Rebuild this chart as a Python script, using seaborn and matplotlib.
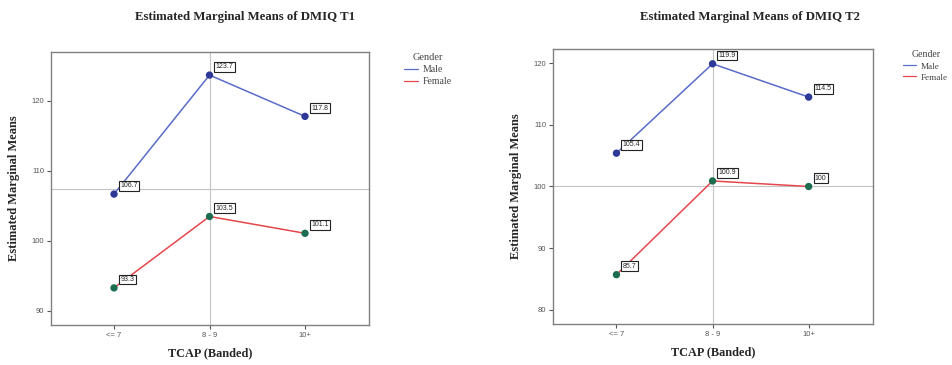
import matplotlib
matplotlib.use("Agg")
import matplotlib.pyplot as plt
import numpy as np
import pandas as pd
import seaborn as sns

# data
bands = ["<= 7", "8 - 9", "10+"]
genders = ["Male", "Female"]
male_t1 = [106.7, 123.7, 117.8]
female_t1 = [93.3, 103.5, 101.1]
male_t2 = [105.4, 119.9, 114.5]
female_t2 = [85.7, 100.9, 100.0]
ref_line_t1 = 107.4
ref_line_t2 = 100.0

line_colors = {"Male": "#5a6cc8", "Female": "#e5474d"}
marker_colors = {"Male": "#2e3896", "Female": "#1d6e50"}

sns.set_style("white")
serif = ["Liberation Serif", "DejaVu Serif"]
sans = ["Liberation Sans", "DejaVu Sans"]


def make_df(male, female):
    return pd.DataFrame({
        "band": bands * 2,
        "Gender": ["Male"] * 3 + ["Female"] * 3,
        "emm": male + female,
    })


def draw_panel(ax, df, ylim, yticks, ref_y, title, title_x, leg_x, leg_size):
    sns.lineplot(data=df, x="band", y="emm", hue="Gender", hue_order=genders,
                 palette=line_colors, sort=False, lw=1.1, ax=ax)
    sns.scatterplot(data=df, x="band", y="emm", hue="Gender", hue_order=genders,
                    palette=marker_colors, s=28, edgecolor="none", legend=False,
                    ax=ax, zorder=4)
    ax.axhline(ref_y, color="#c4c4c4", lw=0.8, zorder=0)
    ax.axvline(1, color="#c4c4c4", lw=0.8, zorder=0)
    for _, r in df.iterrows():
        i = bands.index(r["band"])
        txt = f"{r['emm']:g}"
        ax.annotate(txt, (i, r["emm"]), xytext=(4.5, 6), textcoords="offset points",
                    ha="left", va="center", fontsize=5, family=sans, zorder=5,
                    bbox=dict(boxstyle="square,pad=0.2", fc="white", ec="#222222", lw=0.8))
    ax.set_xlim(-0.66, 2.67)
    ax.set_ylim(*ylim)
    ax.set_yticks(yticks)
    ax.tick_params(axis="both", direction="out", length=3, width=0.8, color="#555555",
                   labelsize=5.5, labelcolor="#555555", pad=2, bottom=True, left=True)
    for lab in ax.get_xticklabels() + ax.get_yticklabels():
        lab.set_family(sans)
    for sp in ax.spines.values():
        sp.set_color("#808080")
        sp.set_linewidth(1.0)
    ax.set_xlabel("TCAP (Banded)", fontsize=8.8, fontweight="bold", family=serif, labelpad=6)
    ax.set_ylabel("Estimated Marginal Means", fontsize=9, fontweight="bold", family=serif, labelpad=8)
    fig.text(title_x, 0.953, title, ha="center", va="center", fontsize=9.2,
             fontweight="bold", family=serif)
    leg = ax.legend(title="Gender", loc="upper left", bbox_to_anchor=(leg_x, 0.995),
                    frameon=False, handlelength=1.4, handletextpad=0.5, borderpad=0,
                    borderaxespad=0, labelspacing=0.3,
                    prop={"family": serif, "size": leg_size})
    leg.get_title().set_family(serif)
    leg.get_title().set_fontsize(leg_size + 0.5)
    leg.get_title().set_color("#444444")
    for t in leg.get_texts():
        t.set_color("#444444")
    for h in leg.get_lines():
        h.set_linewidth(0.9)


fig = plt.figure(figsize=(9.53, 3.65), dpi=100)
ax1 = fig.add_axes([0.0535, 0.1096, 0.3337, 0.748])
ax2 = fig.add_axes([0.5803, 0.1123, 0.3358, 0.7535])

draw_panel(ax1, make_df(male_t1, female_t1), (88, 127), [90, 100, 110, 120],
           ref_line_t1, "Estimated Marginal Means of DMIQ T1", 0.257, 1.11, 7)
draw_panel(ax2, make_df(male_t2, female_t2), (77.7, 122.3), [80, 90, 100, 110, 120],
           ref_line_t2, "Estimated Marginal Means of DMIQ T2", 0.787, 1.095, 6.6)

fig.savefig("out.png", dpi=100)
